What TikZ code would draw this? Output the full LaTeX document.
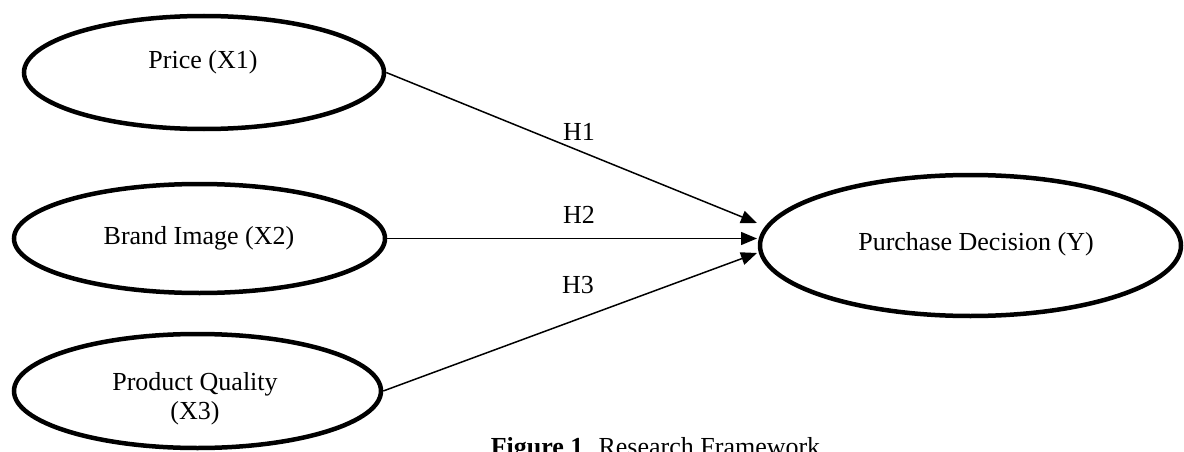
\documentclass[tikz,border=0pt]{standalone}
\usepackage{fontspec}
\setmainfont{Liberation Serif}
\usetikzlibrary{shapes.geometric,arrows.meta}
\begin{document}
\begin{tikzpicture}[x=1pt,y=-1pt,
  construct/.style={draw=black,line width=4.5pt,ellipse,inner sep=0pt},
  lbl/.style={font=\fontsize{26}{29}\selectfont,anchor=base,inner sep=0pt},
  path/.style={line width=1.5pt,-{Triangle[length=16pt,width=13pt]}}]
\useasboundingbox (0,0) rectangle (1184,452);
% latent constructs
\node[construct,minimum width=360pt,minimum height=113pt] (p1) at (204,72.5) {};
\node[construct,minimum width=371pt,minimum height=109pt] (p2) at (199.5,238.5) {};
\node[construct,minimum width=367pt,minimum height=114pt] (p3) at (197.5,391) {};
\node[construct,minimum width=421pt,minimum height=141pt] (y)  at (970.5,245.5) {};
% construct names
\node[lbl] (t1) at (203,69) {Price (X1)};
\node[lbl] (t2) at (199,244) {Brand Image (X2)};
\node[lbl] (t3a) at (195,390) {Product Quality};
\node[lbl] (t3b) at (195,419) {(X3)};
\node[lbl] (ty) at (976,250.5) {Purchase Decision (Y)};
% arrow tips at the dependent construct
\coordinate (e1) at (757,223);
\coordinate (e2) at (757,238.5);
\coordinate (e3) at (757,253);
% hypothesised paths
\draw[path] (p1.east) -- (e1);
\draw[path] (p2.east) -- (e2);
\draw[path] (p3.east) -- (e3);
\node[lbl] (h1) at (579,140) {H1};
\node[lbl] (h2) at (579,223) {H2};
\node[lbl] (h3) at (578,293) {H3};
% caption
\node[lbl] (cap) at (655.5,455) {\textbf{Figure 1}. Research Framework};
\end{tikzpicture}
\end{document}
